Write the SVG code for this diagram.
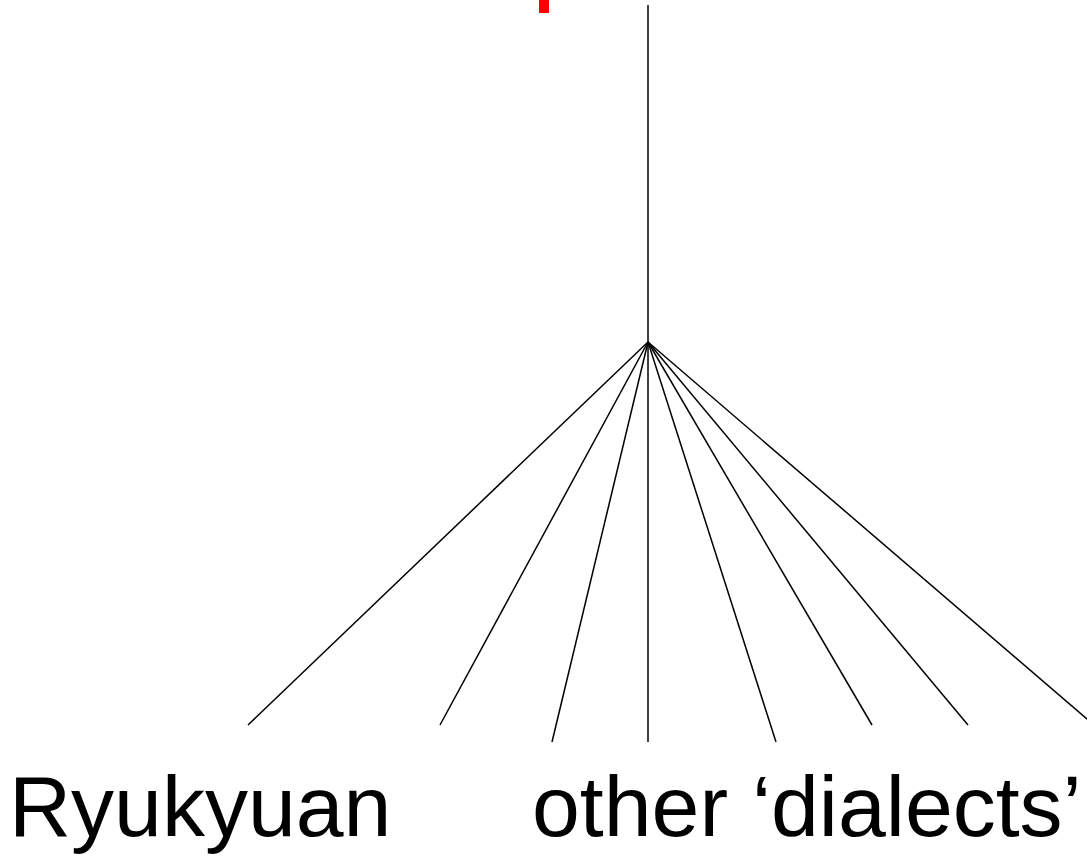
<svg xmlns="http://www.w3.org/2000/svg" width="1087" height="858" viewBox="0 0 1087 858">
  <style>
    .branch { stroke: #000; stroke-width: 1.5; fill: none; }
    .label { font-family: "Liberation Sans", Arial, sans-serif; font-size: 86px; fill: #000; }
  </style>
  <rect width="1087" height="858" fill="#fff"/>
  <!-- red marker at the top edge -->
  <g id="marker">
    <rect x="539" y="0" width="10" height="13" fill="#ff0000"/>
  </g>
  <!-- connectors: trunk and fan of branches -->
  <g id="connectors">
    <line class="branch" x1="648" y1="5" x2="648" y2="342"/>
    <line class="branch" x1="648" y1="342" x2="248" y2="725"/>
    <line class="branch" x1="648" y1="342" x2="440" y2="725"/>
    <line class="branch" x1="648" y1="342" x2="552" y2="742"/>
    <line class="branch" x1="648" y1="342" x2="648" y2="742"/>
    <line class="branch" x1="648" y1="342" x2="776" y2="742"/>
    <line class="branch" x1="648" y1="342" x2="872" y2="725"/>
    <line class="branch" x1="648" y1="342" x2="968" y2="725"/>
    <line class="branch" x1="648" y1="342" x2="1094" y2="725"/>
  </g>
  <g id="ryukyuan">
    <text class="label" x="9" y="836">Ryukyuan</text>
  </g>
  <g id="other-dialects">
    <text class="label" x="532" y="836">other ‘dialects’</text>
  </g>
</svg>
